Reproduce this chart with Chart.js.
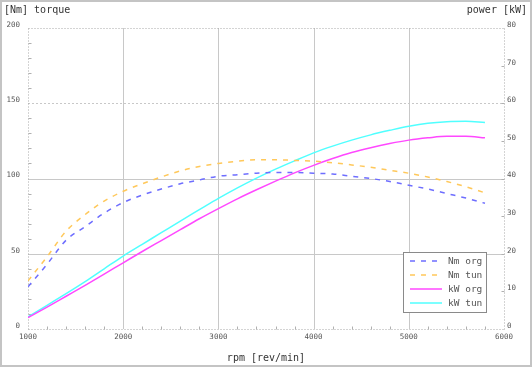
<!DOCTYPE html>
<html><head><meta charset="utf-8">
<script src="https://cdn.jsdelivr.net/npm/chart.js@4"></script>
<style>html,body{margin:0;padding:0;background:#fff;}#wrap{width:532px;height:367px;}</style>
</head><body><div id="wrap"><canvas id="c" width="532" height="367"></canvas></div>
<script>
const rpm = [1000,1200,1400,1600,1800,2000,2200,2400,2600,2800,3000,3200,3400,3600,3800,4000,4200,4400,4600,4800,5000,5200,5400,5600,5800];
const nmOrg = [28,43,59,68,77,84,89,93,96.5,99,101.5,102.5,103.5,104,104,103.5,103,101.5,100,98,95.5,93,90,87,83.5];
const nmTun = [32,48,65,76,85,91.5,96.5,101,105,108,110,111.5,112.5,112.5,112,111.5,110.5,109,107.5,105.5,103.5,101,98,94.5,90.5];
const kwOrg = [3.0,5.8,8.7,11.6,14.6,17.6,20.6,23.5,26.4,29.3,32.0,34.6,37.0,39.3,41.5,43.5,45.3,46.9,48.2,49.3,50.2,50.8,51.2,51.2,50.8];
const kwTun = [3.2,6.3,9.4,12.6,16.0,19.4,22.5,25.6,28.7,31.7,34.7,37.5,40.1,42.5,44.7,46.8,48.6,50.2,51.6,52.8,53.9,54.7,55.1,55.2,54.9];
const xTicks = [1000,2000,3000,4000,5000,6000];
const nmTicks = [0,50,100,150,200];
const kwTicks = [0,10,20,30,40,50,60,70,80];
const seriesLabels = ['Nm org','Nm tun','kW org','kW tun'];

const pts = (ys) => rpm.map((x,i)=>({x:x,y:ys[i]}));
const MONO = '"DejaVu Sans Mono", "Liberation Mono", monospace';

const decor = {
  id:'decor',
  beforeDatasetsDraw(chart){
    const {ctx, chartArea:a, scales} = chart;
    const x = scales.x, y = scales.y, y2 = scales.y2;
    ctx.save();
    ctx.lineWidth = 1;
    ctx.strokeStyle = '#c8c8c8';
    xTicks.forEach(v=>{ if(v>1000 && v<6000){ const px=Math.round(x.getPixelForValue(v))+0.5; ctx.beginPath(); ctx.moveTo(px,a.top); ctx.lineTo(px,a.bottom); ctx.stroke(); }});
    nmTicks.forEach(v=>{ if(v>0 && v<200){ const py=Math.round(y.getPixelForValue(v))+0.5; ctx.setLineDash(v===150?[2,2]:[]); ctx.beginPath(); ctx.moveTo(a.left,py); ctx.lineTo(a.right,py); ctx.stroke(); }});
    ctx.setLineDash([1,2]);
    ctx.strokeStyle = '#a8a8a8';
    const L=Math.round(a.left)+0.5, R=Math.round(a.right)+0.5, T=Math.round(a.top)+0.5, B=Math.round(a.bottom)+0.5;
    ctx.beginPath(); ctx.moveTo(L,T); ctx.lineTo(R,T); ctx.moveTo(L,B); ctx.lineTo(R,B); ctx.moveTo(L,T); ctx.lineTo(L,B); ctx.moveTo(R,T); ctx.lineTo(R,B); ctx.stroke();
    ctx.setLineDash([]);
    ctx.strokeStyle = '#b0b0b0';
    ctx.beginPath();
    for(let v=1200; v<6000; v+=200){ if(v%1000===0) continue; const px=Math.round(x.getPixelForValue(v))+0.5; ctx.moveTo(px,B); ctx.lineTo(px,B-3); }
    for(let v=10; v<200; v+=10){ if(v%50===0) continue; const py=Math.round(y.getPixelForValue(v))+0.5; ctx.moveTo(L,py); ctx.lineTo(L+3,py); }
    for(let v=10; v<80; v+=10){ const py=Math.round(y2.getPixelForValue(v))+0.5; ctx.moveTo(R,py); ctx.lineTo(R-3,py); }
    ctx.stroke();
    ctx.restore();
  },
  afterDraw(chart){
    const {ctx, width, height} = chart;
    ctx.save();
    ctx.strokeStyle = '#c4c4c4'; ctx.lineWidth = 2;
    ctx.strokeRect(1,1,width-2,height-2);
    ctx.fillStyle = '#333';
    ctx.font = '10px ' + MONO;
    ctx.textBaseline = 'middle';
    ctx.textAlign = 'left'; ctx.fillText('[Nm] torque', 4, 10);
    ctx.textAlign = 'right'; ctx.fillText('power [kW]', 527, 10);
    ctx.textAlign = 'center'; ctx.fillText('rpm [rev/min]', 266, 358);
    const bx=403.5, by=252.5, bw=83, bh=60;
    ctx.fillStyle='#fff'; ctx.fillRect(bx,by,bw,bh);
    ctx.strokeStyle='#8a8a8a'; ctx.lineWidth=1; ctx.strokeRect(bx,by,bw,bh);
    ctx.font = '9.5px ' + MONO; ctx.textAlign='left';
    chart.data.datasets.forEach((ds,i)=>{
      const ry = 261 + i*14;
      ctx.strokeStyle = ds.borderColor; ctx.lineWidth = 1.5;
      ctx.setLineDash(ds.borderDash || []);
      ctx.beginPath(); ctx.moveTo(410, ry); ctx.lineTo(442, ry); ctx.stroke();
      ctx.setLineDash([]);
      ctx.fillStyle = '#555';
      ctx.fillText(ds.label, 448, ry+0.5);
    });
    ctx.restore();
  }
};

const tickFont = {family:MONO,size:7.5};
const noGrid = {display:false, drawTicks:false, tickLength:0};
new Chart(document.getElementById('c'), {
  type:'line',
  data:{ datasets:[
    {label:seriesLabels[0], data:pts(nmOrg), yAxisID:'y', borderColor:'#6e6eff', borderDash:[5,6], borderWidth:1.5},
    {label:seriesLabels[1], data:pts(nmTun), yAxisID:'y', borderColor:'#ffc85a', borderDash:[5,6], borderWidth:1.5},
    {label:seriesLabels[2], data:pts(kwOrg), yAxisID:'y2', borderColor:'#ff48ff', borderWidth:1.5},
    {label:seriesLabels[3], data:pts(kwTun), yAxisID:'y2', borderColor:'#50ffff', borderWidth:1.5}
  ]},
  options:{
    responsive:false, animation:false, devicePixelRatio:1,
    layout:{padding:{top:28,left:0,right:0,bottom:0}},
    elements:{point:{radius:0}, line:{cubicInterpolationMode:'monotone', fill:false}},
    plugins:{legend:{display:false}, tooltip:{enabled:false}},
    scales:{
      x:{type:'linear', min:1000, max:6000,
         afterBuildTicks(s){ s.ticks = xTicks.map(v=>({value:v})); },
         afterFit(s){ s.height = 38; },
         grid:noGrid, border:{display:false},
         ticks:{padding:4, font:tickFont, color:'#555', maxRotation:0, autoSkip:false, callback:v=>String(v)}},
      y:{position:'left', min:0, max:200,
         afterBuildTicks(s){ s.ticks = nmTicks.map(v=>({value:v})); },
         afterFit(s){ s.width = 28; },
         grid:noGrid, border:{display:false},
         ticks:{padding:8, labelOffset:-3, font:tickFont, color:'#555', callback:v=>String(v)}},
      y2:{position:'right', min:0, max:80,
         afterBuildTicks(s){ s.ticks = kwTicks.map(v=>({value:v})); },
         afterFit(s){ s.width = 28; },
         grid:noGrid, border:{display:false},
         ticks:{padding:3, labelOffset:-3, font:tickFont, color:'#555', callback:v=>String(v)}}
    }
  },
  plugins:[decor]
});
</script></body></html>
